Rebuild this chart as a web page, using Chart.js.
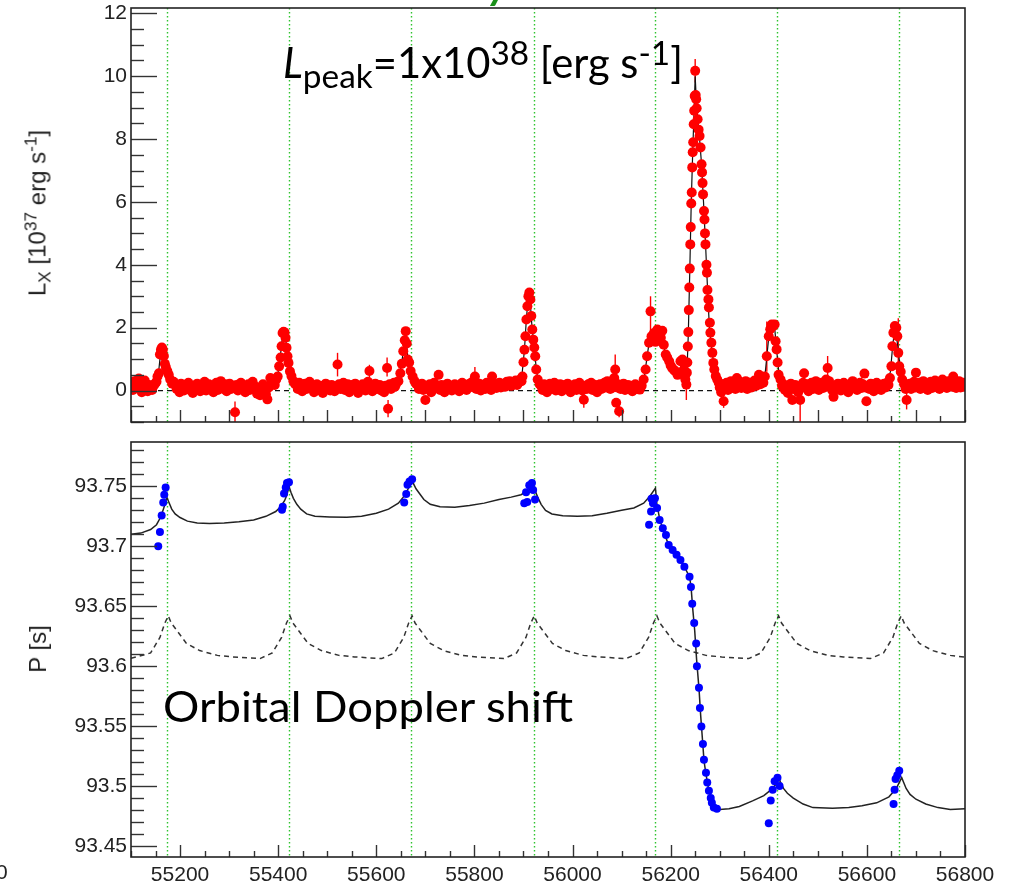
<!DOCTYPE html>
<html>
<head>
<meta charset="utf-8">
<script src="https://cdn.jsdelivr.net/npm/chart.js@4.4.0/dist/chart.umd.min.js"></script>
<style>
  body { margin: 0; background: #fff; width: 1015px; height: 883px; position: relative; overflow: hidden; }
  #lxBox { position: absolute; left: 0; top: 0; width: 1015px; height: 432px; }
  #pBox { position: absolute; left: 0; top: 432px; width: 1015px; height: 451px; }
  .note { position: absolute; font-family: Lato, "Open Sans", sans-serif; font-size: 42px; line-height: 1; color: #000; white-space: nowrap; transform-origin: left top; }
  .note .lo { font-size: 0.8em; vertical-align: -0.3em; }
  .note .hi { font-size: 0.8em; vertical-align: 0.38em; }
  .ytitle { position: absolute; font-family: "Liberation Sans", Arial, sans-serif; font-size: 24px; line-height: 1; color: #222; white-space: nowrap; transform: translate(-50%, -50%) rotate(-90deg); }
  .ytitle .lo { font-size: 0.72em; vertical-align: -0.3em; }
  .ytitle .hi { font-size: 0.72em; vertical-align: 0.5em; }
  .cut { position: absolute; font-family: "Liberation Sans", Arial, sans-serif; font-size: 21px; line-height: 1; color: #222; }
</style>
</head>
<body>
<div id="lxBox"><canvas id="lxChart"></canvas></div>
<div id="pBox"><canvas id="pChart"></canvas></div>

<div class="ytitle" style="left:38px; top:213px;">L<span class="lo">X</span> [10<span class="hi">37</span> erg s<span class="hi">-1</span>]</div>
<div class="ytitle" style="left:38px; top:649px;">P [s]</div>
<div class="note" id="peakNote" style="left:283px; top:36px;"><i>L</i><span class="lo">peak</span>=1x10<span class="hi">38</span> [erg s<span class="hi">-1</span>]</div>
<div class="note" id="dopplerNote" style="left:163px; top:685px;">Orbital Doppler shift</div>
<div class="note" style="left:488px; top:-38px; color:#1a8f1a; font-weight:bold; font-style:italic;">y</div>
<div class="cut" style="left:-4px; top:861px;">0</div>

<script>
// periastron passages (MJD), drawn as green dotted markers in both panels
const periastronMjd = [55174, 55422, 55671, 55921, 56169, 56417, 56666];

// X-ray luminosity light curve [MJD, 1e37 erg/s]
const lxObs = [
  [55101, 0.22], [55104, 0.02], [55107, 0.30], [55110, 0.10], [55113, 0.25], [55116, 0.38], [55119, 0.12], [55122, -0.05],
  [55125, 0.20], [55128, 0.32], [55131, 0.08], [55134, -0.02], [55137, 0.18], [55140, 0.10], [55143, 0.02], [55146, 0.15],
  [55149, 0.22], [55152, 0.28],
  [55154, 0.45], [55157, 0.55], [55159, 1.15], [55161, 1.30], [55163, 1.37], [55165, 1.30], [55167, 1.10], [55169, 0.85],
  [55171, 0.75], [55174, 0.62], [55177, 0.50], [55180, 0.35], [55184, 0.22], [55187, 0.28],
  [55190, 0.20], [55193, 0.05], [55196, 0.15], [55199, -0.05], [55202, 0.22], [55205, 0.10], [55208, 0.00], [55211, 0.18],
  [55214, 0.08], [55217, 0.25], [55220, 0.02], [55223, 0.12], [55226, -0.08], [55229, 0.15], [55232, 0.05], [55235, 0.22],
  [55238, 0.10], [55241, -0.02], [55244, 0.18], [55247, 0.08], [55250, 0.28], [55253, 0.00], [55256, 0.12], [55259, 0.20],
  [55262, 0.05], [55265, 0.15], [55268, -0.05], [55271, 0.10], [55274, 0.25], [55277, 0.02], [55280, 0.15], [55283, 0.30],
  [55286, 0.10], [55289, 0.05], [55292, 0.20], [55295, -0.02], [55298, 0.12], [55301, 0.22], [55304, 0.05], [55307, 0.15],
  [55310, 0.08], [55312, -0.69], [55315, 0.18], [55318, 0.00], [55321, 0.12], [55324, 0.25], [55327, 0.05], [55330, 0.15],
  [55333, -0.05], [55336, 0.10], [55339, 0.20], [55342, 0.02], [55345, 0.15], [55348, 0.28], [55351, 0.08], [55354, 0.12],
  [55357, -0.10], [55360, 0.05], [55363, -0.15], [55366, 0.10], [55369, 0.20], [55372, 0.00], [55375, -0.12], [55378, -0.28],
  [55381, 0.10], [55384, 0.40], [55387, 0.22], [55390, 0.30], [55393, 0.18], [55396, 0.35],
  [55399, 0.45], [55402, 0.77], [55405, 1.05], [55407, 1.41], [55409, 1.83], [55411, 1.87], [55413, 1.85], [55415, 1.68],
  [55417, 1.36], [55419, 1.09], [55421, 0.88], [55424, 0.61], [55427, 0.46], [55431, 0.30], [55434, 0.22],
  [55437, 0.18], [55440, 0.05], [55443, 0.25], [55446, 0.10], [55449, -0.02], [55452, 0.15], [55455, 0.22], [55458, 0.05],
  [55461, 0.12], [55464, 0.28], [55467, 0.08], [55470, 0.18], [55473, -0.05], [55476, 0.10], [55479, 0.20], [55482, 0.02],
  [55485, 0.15], [55488, 0.08], [55491, -0.08], [55494, 0.12], [55497, 0.22], [55500, 0.05], [55503, 0.15], [55506, 0.00],
  [55509, 0.18], [55512, 0.10], [55515, -0.02], [55518, 0.12], [55521, 0.83], [55524, 0.20], [55527, 0.05], [55530, 0.15],
  [55533, 0.25], [55536, 0.02], [55539, 0.12], [55542, 0.20], [55545, -0.05], [55548, 0.10], [55551, 0.18], [55554, 0.05],
  [55557, 0.22], [55560, 0.10], [55563, -0.08], [55566, 0.12], [55569, 0.05], [55572, 0.20], [55575, 0.12], [55578, 0.00],
  [55581, 0.15], [55583, 0.28], [55586, 0.62], [55589, 0.10], [55592, -0.02], [55595, 0.15], [55598, 0.22], [55601, 0.05],
  [55604, 0.12], [55607, 0.18], [55610, 0.00], [55613, 0.10], [55616, -0.05], [55619, 0.15], [55622, 0.72], [55624, -0.58],
  [55627, 0.20], [55630, 0.05], [55633, 0.15], [55636, 0.25], [55638, 0.12],
  [55640, 0.20], [55645, 0.30], [55649, 0.55], [55652, 0.85], [55655, 1.25], [55658, 1.60], [55660, 1.89], [55662, 1.50],
  [55664, 0.99], [55667, 0.89], [55670, 0.62], [55674, 0.45], [55678, 0.30], [55681, 0.22],
  [55684, 0.18], [55687, 0.05], [55690, 0.12], [55693, 0.22], [55696, 0.02], [55700, -0.30], [55703, 0.15], [55706, 0.05],
  [55709, 0.20], [55712, -0.05], [55715, 0.12], [55718, 0.25], [55721, 0.08], [55724, 0.15], [55727, 0.50], [55730, 0.02],
  [55733, 0.18], [55736, 0.10], [55739, -0.05], [55742, 0.12], [55745, 0.22], [55748, 0.05], [55751, 0.15], [55754, 0.00],
  [55757, 0.10], [55760, 0.20], [55763, 0.05], [55766, 0.15], [55769, -0.02], [55772, 0.12], [55775, 0.25], [55778, 0.08],
  [55781, 0.18], [55784, 0.02], [55787, 0.10], [55790, 0.22], [55793, 0.12], [55796, 0.28], [55799, 0.10], [55801, 0.45],
  [55804, 0.05], [55807, 0.15], [55810, 0.22], [55813, 0.00], [55816, 0.12], [55819, 0.18], [55822, 0.05], [55825, 0.25],
  [55828, 0.10], [55831, 0.15], [55834, 0.02], [55836, 0.45], [55839, 0.12], [55842, 0.20], [55845, 0.08], [55848, 0.18],
  [55851, 0.25], [55854, 0.10], [55857, 0.15], [55860, 0.22], [55863, 0.12], [55866, 0.28], [55869, 0.18], [55872, 0.30],
  [55875, 0.15], [55878, 0.25], [55881, 0.20], [55884, 0.32], [55887, 0.18], [55890, 0.25], [55893, 0.35], [55896, 0.30],
  [55898, 0.45], [55900, 0.90], [55902, 1.30], [55904, 1.73], [55906, 2.26], [55908, 2.68], [55910, 3.00], [55912, 3.12],
  [55914, 2.90], [55916, 2.37], [55918, 1.94], [55920, 1.62], [55922, 1.37], [55924, 1.09], [55926, 0.67], [55929, 0.35],
  [55933, 0.20],
  [55936, 0.15], [55939, 0.02], [55942, 0.20], [55945, 0.08], [55948, -0.05], [55951, 0.15], [55954, 0.22], [55957, 0.05],
  [55960, 0.12], [55963, 0.25], [55966, 0.00], [55969, 0.15], [55972, 0.08], [55975, 0.20], [55978, -0.02], [55981, 0.12],
  [55984, 0.18], [55987, 0.05], [55990, 0.22], [55993, 0.10], [55996, -0.05], [55999, 0.15], [56002, 0.08], [56005, 0.20],
  [56008, 0.02], [56011, 0.12], [56014, 0.25], [56017, 0.10], [56020, 0.00], [56023, -0.29], [56026, 0.15], [56029, 0.05],
  [56032, 0.20], [56035, 0.10], [56038, 0.25], [56041, 0.02], [56044, 0.12], [56047, 0.18], [56050, -0.05], [56053, 0.10],
  [56056, 0.20], [56059, 0.05], [56062, 0.15], [56065, 0.25], [56068, 0.10], [56071, 0.30], [56074, 0.15], [56077, 0.05],
  [56080, 0.20], [56083, 0.10], [56085, 0.40], [56087, 0.67], [56089, -0.39], [56091, 0.10], [56093, 0.20], [56095, -0.66],
  [56098, 0.05], [56101, 0.15], [56104, 0.22], [56107, 0.02], [56110, 0.12], [56113, 0.18], [56116, 0.05], [56119, 0.15],
  [56122, -0.02], [56125, 0.10], [56128, 0.20], [56131, 0.05], [56134, 0.12],
  [56137, 0.03], [56141, 0.15], [56145, 0.35], [56149, 0.67], [56152, 1.09], [56156, 1.52], [56159, 2.52], [56161, 1.73],
  [56163, 1.62], [56166, 1.83], [56169, 1.55], [56173, 1.94], [56176, 1.75], [56180, 1.68], [56183, 1.90], [56186, 1.46],
  [56190, 1.15], [56193, 1.05], [56197, 0.93], [56200, 0.80], [56203, 0.72], [56207, 0.65], [56210, 0.61], [56214, 0.50],
  [56217, 0.56], [56220, 0.93], [56224, 0.99], [56227, 0.67], [56230, 0.35],
  [56232, 0.19], [56233, 0.57], [56234, 0.89], [56235, 1.40], [56236, 1.86], [56237, 2.56], [56238, 3.28], [56239, 3.88],
  [56240, 4.65], [56241, 5.20], [56242, 5.95], [56243, 6.30], [56244, 7.10], [56245, 7.58], [56246, 7.90], [56247, 8.47],
  [56248, 8.90], [56249, 9.37], [56250, 10.17], [56251, 9.40], [56252, 9.27], [56253, 8.98], [56255, 8.63], [56257, 8.30],
  [56259, 8.10], [56261, 7.73], [56263, 7.20], [56264, 6.94], [56265, 6.60], [56266, 6.24], [56268, 5.71], [56269, 5.44],
  [56270, 5.00], [56271, 4.65], [56273, 4.00], [56274, 3.75], [56275, 3.20], [56277, 2.90], [56278, 2.64], [56280, 2.16],
  [56281, 1.84], [56283, 1.52], [56285, 1.20], [56287, 0.88], [56289, 0.67], [56292, 0.46], [56295, 0.35], [56298, 0.25],
  [56300, 0.10], [56303, -0.05], [56306, 0.20], [56308, -0.34], [56311, 0.12], [56314, 0.25], [56317, 0.02], [56320, 0.15],
  [56323, 0.30], [56326, 0.10], [56329, 0.22], [56332, 0.05], [56335, 0.40], [56338, 0.15], [56341, 0.28], [56344, 0.08],
  [56347, 0.20], [56350, 0.12], [56353, 0.30], [56356, 0.05], [56359, 0.18], [56362, 0.25], [56365, 0.10], [56368, 0.22],
  [56371, 0.32], [56374, 0.15], [56377, 0.28], [56380, 0.50], [56383, 0.20], [56386, 0.35], [56389, 0.25], [56392, 0.45],
  [56396, 1.09], [56400, 1.73], [56403, 1.95], [56406, 2.10], [56409, 2.05], [56412, 2.10], [56414, 1.57], [56416, 1.31],
  [56418, 0.89], [56420, 0.50], [56424, 0.35], [56427, 0.15],
  [56430, 0.20], [56433, 0.02], [56436, 0.15], [56439, -0.08], [56442, 0.10], [56445, 0.22], [56448, -0.30], [56451, 0.05],
  [56454, 0.18], [56457, 0.10], [56460, -0.05], [56464, -0.30], [56467, 0.15], [56470, 0.25], [56472, 0.55], [56475, 0.08],
  [56478, 0.20], [56481, -0.02], [56484, 0.12], [56487, 0.25], [56490, 0.05], [56493, 0.18], [56496, 0.30], [56499, 0.10],
  [56502, 0.02], [56505, 0.15], [56508, 0.25], [56511, 0.08], [56514, 0.20], [56517, 0.35], [56520, 0.72], [56523, 0.30],
  [56526, 0.12], [56529, 0.02], [56532, -0.20], [56535, 0.15], [56538, 0.05], [56541, 0.22], [56544, 0.10], [56547, 0.00],
  [56550, 0.18], [56553, 0.25], [56556, 0.05], [56559, 0.15], [56562, -0.05], [56565, 0.12], [56568, 0.22], [56571, 0.30],
  [56574, 0.10], [56577, 0.18], [56580, 0.02], [56583, 0.15], [56586, 0.25], [56589, 0.08], [56592, 0.20], [56595, 0.54],
  [56597, 0.10], [56599, -0.34], [56602, 0.15], [56605, 0.05], [56608, 0.22], [56611, 0.10], [56614, -0.02], [56617, 0.15],
  [56620, 0.25], [56623, 0.08], [56626, 0.18], [56629, 0.02], [56632, 0.15], [56635, 0.22], [56638, 0.10], [56641, 0.25],
  [56644, 0.18], [56647, 0.40],
  [56650, 0.77], [56652, 1.41], [56654, 1.84], [56657, 2.05], [56660, 2.00], [56662, 1.73], [56664, 1.20], [56666, 0.77],
  [56669, 0.60], [56672, 0.35], [56676, 0.20],
  [56679, 0.05], [56681, -0.30], [56684, 0.15], [56687, 0.22], [56690, 0.05], [56693, 0.18], [56696, 0.28], [56699, 0.10],
  [56700, 0.57], [56703, 0.15], [56706, 0.25], [56709, 0.05], [56712, 0.18], [56715, 0.30], [56718, 0.10], [56721, 0.22],
  [56724, 0.02], [56727, 0.15], [56730, 0.28], [56733, 0.08], [56736, 0.20], [56739, 0.32], [56742, 0.12], [56745, 0.25],
  [56748, 0.05], [56751, 0.18], [56754, 0.35], [56757, 0.15], [56760, 0.22], [56763, 0.08], [56766, 0.30], [56769, 0.15],
  [56772, 0.25], [56775, 0.12], [56776, 0.45], [56779, 0.20], [56782, 0.08], [56785, 0.22], [56788, 0.30], [56791, 0.10],
  [56794, 0.18], [56797, 0.25], [56799, 0.12]
];

// long error bars on the light curve [MJD, low, high]
const lxBars = [
  [55312, -1.05, -0.35], [55521, 0.45, 1.2], [55586, 0.42, 0.82], [55622, 0.45, 1.05], [55624, -0.85, -0.3],
  [55801, 0.2, 0.75], [56023, -0.55, 0.0], [56087, 0.3, 1.15], [56095, -0.85, -0.45], [56159, 1.9, 3.0],
  [56232, -0.3, 0.6], [56250, 9.8, 10.55], [56308, -0.55, -0.1], [56396, 0.6, 2.2], [56464, -1.0, 0.2],
  [56520, 0.35, 1.1], [56664, 0.8, 2.3], [56681, -0.6, 0.0]
];

// smooth outburst model drawn under the light curve
const lxModel = [
  [55100, 0.12], [55150, 0.15], [55155, 0.4], [55159, 1.0], [55163, 1.3], [55166, 1.25], [55170, 0.85], [55176, 0.6],
  [55184, 0.25], [55192, 0.12], [55390, 0.2], [55398, 0.4], [55403, 0.9], [55408, 1.6], [55412, 1.85], [55416, 1.55],
  [55420, 0.95], [55426, 0.5], [55434, 0.2], [55440, 0.12], [55640, 0.18], [55647, 0.45], [55652, 0.9], [55657, 1.5],
  [55660, 1.8], [55664, 1.1], [55670, 0.6], [55680, 0.25], [55690, 0.12], [55890, 0.25], [55897, 0.5], [55902, 1.3],
  [55906, 2.3], [55910, 3.0], [55913, 3.0], [55917, 2.1], [55922, 1.35], [55927, 0.55], [55934, 0.2], [55940, 0.1],
  [56130, 0.08], [56140, 0.15], [56147, 0.5], [56153, 1.2], [56158, 1.7], [56165, 1.8], [56172, 1.75], [56180, 1.6],
  [56188, 1.3], [56196, 0.95], [56205, 0.7], [56215, 0.55], [56222, 0.8], [56228, 0.6], [56233, 0.5], [56236, 1.8],
  [56239, 3.8], [56242, 6.0], [56245, 7.6], [56248, 9.0], [56250, 10.0], [56253, 9.0], [56258, 8.2], [56263, 7.2],
  [56267, 6.0], [56271, 4.7], [56275, 3.3], [56279, 2.0], [56284, 1.3], [56290, 0.6], [56298, 0.25], [56305, 0.1],
  [56385, 0.25], [56393, 0.6], [56400, 1.7], [56407, 2.1], [56412, 2.0], [56416, 1.3], [56421, 0.5], [56430, 0.15],
  [56640, 0.2], [56648, 0.6], [56653, 1.5], [56658, 2.0], [56663, 1.4], [56668, 0.7], [56676, 0.2], [56800, 0.12]
];
const zeroLevel = [[55100, 0], [56800, 0]];

// measured pulse period [MJD, s]
const spinObs = [
  [55155.5, 93.700], [55159, 93.712], [55162.5, 93.7257], [55165.7, 93.7366], [55167.8, 93.743], [55170.6, 93.749],
  [55407.8, 93.7305], [55409.3, 93.733], [55411.9, 93.744], [55415.4, 93.749], [55418, 93.7528], [55422, 93.7534],
  [55656.9, 93.7366], [55661, 93.7436], [55663.6, 93.7514], [55667.7, 93.754], [55673, 93.756],
  [55901.6, 93.736], [55905.3, 93.745], [55907.7, 93.737], [55911.8, 93.751], [55917.3, 93.7528], [55919.7, 93.747], [55923.6, 93.739],
  [56156, 93.718], [56160, 93.729], [56161, 93.7397], [56164, 93.736], [56165, 93.739], [56168, 93.740], [56172.3, 93.732],
  [56177.5, 93.722], [56184, 93.715], [56190.5, 93.7095], [56196, 93.701], [56204, 93.697], [56212, 93.693], [56220, 93.6886],
  [56228, 93.683], [56238.5, 93.6746], [56241.4, 93.666], [56244, 93.652], [56248, 93.636], [56252, 93.619], [56253.6, 93.600],
  [56257.7, 93.582], [56259.7, 93.565], [56262.6, 93.5496], [56265.8, 93.535], [56267.9, 93.522], [56272, 93.511],
  [56274.6, 93.503], [56278, 93.496], [56281.7, 93.490], [56284, 93.486], [56288, 93.482], [56294.3, 93.481],
  [56400, 93.469], [56404, 93.488], [56408, 93.497], [56412, 93.504], [56417.8, 93.507], [56422, 93.500],
  [56654.4, 93.485], [56656.5, 93.497], [56658.5, 93.5058], [56662, 93.509], [56666, 93.5127]
];

// spin-up plus orbit model through the period measurements
const spinModel = [
  [55100, 93.710], [55120, 93.711], [55140, 93.714], [55152, 93.718], [55160, 93.724], [55166, 93.731], [55170, 93.736],
  [55173, 93.741], [55177, 93.737], [55183, 93.731], [55190, 93.727], [55200, 93.724], [55215, 93.721], [55235, 93.7195],
  [55260, 93.719], [55290, 93.7195], [55320, 93.7205], [55350, 93.722], [55375, 93.725], [55395, 93.729], [55405, 93.733],
  [55413, 93.738], [55418, 93.743], [55422, 93.750], [55426, 93.745], [55431, 93.740], [55438, 93.735], [55446, 93.731],
  [55458, 93.727], [55475, 93.725], [55505, 93.7245], [55540, 93.7242], [55570, 93.725], [55600, 93.7275], [55625, 93.731],
  [55645, 93.736], [55657, 93.742], [55665, 93.748], [55672, 93.757], [55676, 93.752], [55681, 93.748], [55688, 93.744],
  [55697, 93.739], [55710, 93.735], [55730, 93.733], [55760, 93.7325], [55790, 93.734], [55820, 93.736], [55850, 93.739],
  [55875, 93.741], [55895, 93.743], [55908, 93.746], [55915, 93.748], [55920, 93.751], [55924, 93.746], [55929, 93.741],
  [55936, 93.735], [55945, 93.730], [55958, 93.727], [55980, 93.7255], [56010, 93.725], [56040, 93.7255], [56070, 93.7275],
  [56100, 93.730], [56125, 93.732], [56145, 93.736], [56158, 93.742], [56169, 93.7486],
  [56172, 93.735], [56178, 93.722], [56186, 93.712], [56196, 93.701], [56212, 93.693], [56228, 93.683], [56239, 93.674],
  [56242, 93.664], [56245, 93.648], [56249, 93.630], [56253, 93.605], [56258, 93.580], [56261, 93.560], [56265, 93.538],
  [56268, 93.521], [56272, 93.510], [56277, 93.498], [56283, 93.488], [56290, 93.482], [56300, 93.4805], [56319, 93.481],
  [56340, 93.483], [56367, 93.4876], [56390, 93.492], [56405, 93.497], [56414, 93.501], [56421, 93.506], [56425, 93.502],
  [56430, 93.498], [56438, 93.494], [56450, 93.490], [56470, 93.485], [56490, 93.482], [56530, 93.4815], [56563, 93.482],
  [56590, 93.4835], [56620, 93.486], [56645, 93.491], [56660, 93.498], [56671, 93.507], [56675, 93.503], [56680, 93.498],
  [56688, 93.493], [56700, 93.489], [56720, 93.485], [56745, 93.482], [56770, 93.4805], [56800, 93.481]
];

// orbital Doppler modulation alone (dashed)
const dopplerCurve = [
  [55100, 93.6065],
  [55140, 93.611], [55159, 93.624], [55169, 93.636], [55176, 93.642], [55182, 93.636], [55193, 93.630], [55213, 93.619],
  [55240, 93.613], [55276, 93.609], [55308, 93.6077], [55363, 93.6063],
  [55388, 93.611], [55407, 93.624], [55417, 93.636], [55424, 93.642], [55430, 93.636], [55441, 93.630], [55461, 93.619],
  [55488, 93.613], [55524, 93.609], [55556, 93.6077], [55611, 93.6063],
  [55637, 93.611], [55656, 93.624], [55666, 93.636], [55673, 93.642], [55679, 93.636], [55690, 93.630], [55710, 93.619],
  [55737, 93.613], [55773, 93.609], [55805, 93.6077], [55860, 93.6063],
  [55886, 93.611], [55905, 93.624], [55915, 93.636], [55922, 93.642], [55928, 93.636], [55939, 93.630], [55959, 93.619],
  [55986, 93.613], [56022, 93.609], [56054, 93.6077], [56109, 93.6063],
  [56136, 93.611], [56155, 93.624], [56165, 93.636], [56172, 93.642], [56178, 93.636], [56189, 93.630], [56209, 93.619],
  [56236, 93.613], [56272, 93.609], [56304, 93.6077], [56359, 93.6063],
  [56384, 93.611], [56403, 93.624], [56413, 93.636], [56420, 93.642], [56426, 93.636], [56437, 93.630], [56457, 93.619],
  [56484, 93.613], [56520, 93.609], [56552, 93.6077], [56607, 93.6063],
  [56634, 93.611], [56653, 93.624], [56663, 93.636], [56670, 93.642], [56676, 93.636], [56687, 93.630], [56707, 93.619],
  [56734, 93.613], [56770, 93.609], [56800, 93.6075]
];

const toXY = arr => arr.map(([x, y]) => ({ x, y }));
const isMultiple = (v, m) => Math.abs(v / m - Math.round(v / m)) < 1e-6;

// ROOT-style frame: inward ticks, box, periastron markers, error bars
const rootFrame = {
  id: 'rootFrame',
  beforeDatasetsDraw(chart, args, opts) {
    const { ctx, chartArea: a, scales: { x, y } } = chart;
    ctx.save();
    ctx.strokeStyle = '#2ec42e';
    ctx.lineWidth = 1.4;
    ctx.setLineDash([1.5, 2.5]);
    periastronMjd.forEach(m => {
      const px = Math.round(x.getPixelForValue(m)) + 0.5;
      ctx.beginPath();
      ctx.moveTo(px, a.top);
      ctx.lineTo(px, a.bottom);
      ctx.stroke();
    });
    ctx.setLineDash([]);
    if (opts.bars) {
      ctx.beginPath();
      ctx.rect(a.left, a.top, a.width, a.height);
      ctx.clip();
      ctx.strokeStyle = '#ff0000';
      ctx.lineWidth = 1.4;
      opts.bars.forEach(([m, lo, hi]) => {
        const px = x.getPixelForValue(m);
        ctx.beginPath();
        ctx.moveTo(px, y.getPixelForValue(lo));
        ctx.lineTo(px, y.getPixelForValue(hi));
        ctx.stroke();
      });
    }
    ctx.restore();
  },
  afterDatasetsDraw(chart, args, opts) {
    const { ctx, chartArea: a, scales: { x, y } } = chart;
    ctx.save();
    ctx.strokeStyle = '#333';
    ctx.lineWidth = 1.4;
    y.ticks.forEach(t => {
      const py = Math.round(y.getPixelForValue(t.value)) + 0.5;
      const len = isMultiple(t.value, opts.yMajor) ? 26 : 13;
      ctx.beginPath();
      ctx.moveTo(a.left, py);
      ctx.lineTo(a.left + len, py);
      ctx.stroke();
    });
    x.ticks.forEach(t => {
      const px = Math.round(x.getPixelForValue(t.value)) + 0.5;
      const len = isMultiple(t.value, opts.xMajor) ? 12 : 6;
      ctx.beginPath();
      ctx.moveTo(px, a.bottom);
      ctx.lineTo(px, a.bottom - len);
      ctx.stroke();
    });
    ctx.strokeStyle = '#222';
    ctx.lineWidth = 1.6;
    ctx.strokeRect(a.left, a.top, a.width, a.height);
    ctx.restore();
  }
};

const tickFont = { family: 'Liberation Sans', size: 21 };

// keep label overhang from shrinking the plot frame
function noOverhang(s) {
  s.paddingTop = 0; s.paddingBottom = 0; s.paddingLeft = 0; s.paddingRight = 0;
}

function xScale(showLabels, axisHeight) {
  return {
    type: 'linear', min: 55100, max: 56800,
    grid: { display: false, drawTicks: false }, border: { display: false },
    ticks: {
      display: showLabels, stepSize: 50, autoSkip: false, maxRotation: 0, minRotation: 0,
      maxTicksLimit: 1000, padding: 6, color: '#222', font: tickFont,
      callback: v => isMultiple(v, 200) ? String(v) : ''
    },
    afterFit: s => { s.height = axisHeight; noOverhang(s); }
  };
}

function yScale(min, max, step, major, fmt) {
  return {
    min, max,
    grid: { display: false, drawTicks: false }, border: { display: false },
    ticks: {
      stepSize: step, includeBounds: false, autoSkip: false, maxTicksLimit: 1000,
      padding: 4, color: '#222', font: tickFont,
      callback: v => isMultiple(v, major) ? fmt(v) : ''
    },
    afterFit: s => { s.width = 131; noOverhang(s); }
  };
}

const common = {
  responsive: true, maintainAspectRatio: false, animation: false, events: []
};

new Chart(document.getElementById('lxChart'), {
  type: 'scatter',
  data: {
    datasets: [
      { data: toXY(lxObs), pointRadius: 5, pointBackgroundColor: '#ff0000', pointBorderWidth: 0, order: 1, clip: 0 },
      { data: toXY(lxModel), showLine: true, borderColor: '#111', borderWidth: 1.2, pointRadius: 0, order: 2, clip: 0 },
      { data: toXY(zeroLevel), showLine: true, borderColor: '#111', borderWidth: 1.2, borderDash: [5, 4], pointRadius: 0, order: 3, clip: 0 }
    ]
  },
  options: {
    ...common,
    layout: { padding: { top: 8, right: 50, left: 0, bottom: 0 } },
    plugins: { legend: { display: false }, tooltip: { enabled: false }, rootFrame: { xMajor: 100, yMajor: 2, bars: lxBars } },
    scales: {
      x: xScale(false, 10),
      y: yScale(-1, 12.17, 0.5, 2, v => String(Math.round(v)))
    }
  },
  plugins: [rootFrame]
});

new Chart(document.getElementById('pChart'), {
  type: 'scatter',
  data: {
    datasets: [
      { data: toXY(spinObs), pointRadius: 4, pointBackgroundColor: '#0000ff', pointBorderWidth: 0, order: 1, clip: 0 },
      { data: toXY(spinModel), showLine: true, borderColor: '#222', borderWidth: 1.5, pointRadius: 0, order: 2, clip: 0 },
      { data: toXY(dopplerCurve), showLine: true, borderColor: '#333', borderWidth: 1.5, borderDash: [5, 4], pointRadius: 0, order: 3, clip: 0 }
    ]
  },
  options: {
    ...common,
    layout: { padding: { top: 10, right: 50, left: 0, bottom: 0 } },
    plugins: { legend: { display: false }, tooltip: { enabled: false }, rootFrame: { xMajor: 200, yMajor: 0.05 } },
    scales: {
      x: xScale(true, 26),
      y: yScale(93.4408, 93.787, 0.01, 0.05, v => String(+v.toFixed(2)))
    }
  },
  plugins: [rootFrame]
});

// stretch the two annotations to their drawn widths
function fitWidth(id, width) {
  const el = document.getElementById(id);
  const w = el.getBoundingClientRect().width;
  el.style.transform = 'scaleX(' + (width / w) + ')';
}
fitWidth('peakNote', 400);
fitWidth('dopplerNote', 410);
</script>
</body>
</html>
